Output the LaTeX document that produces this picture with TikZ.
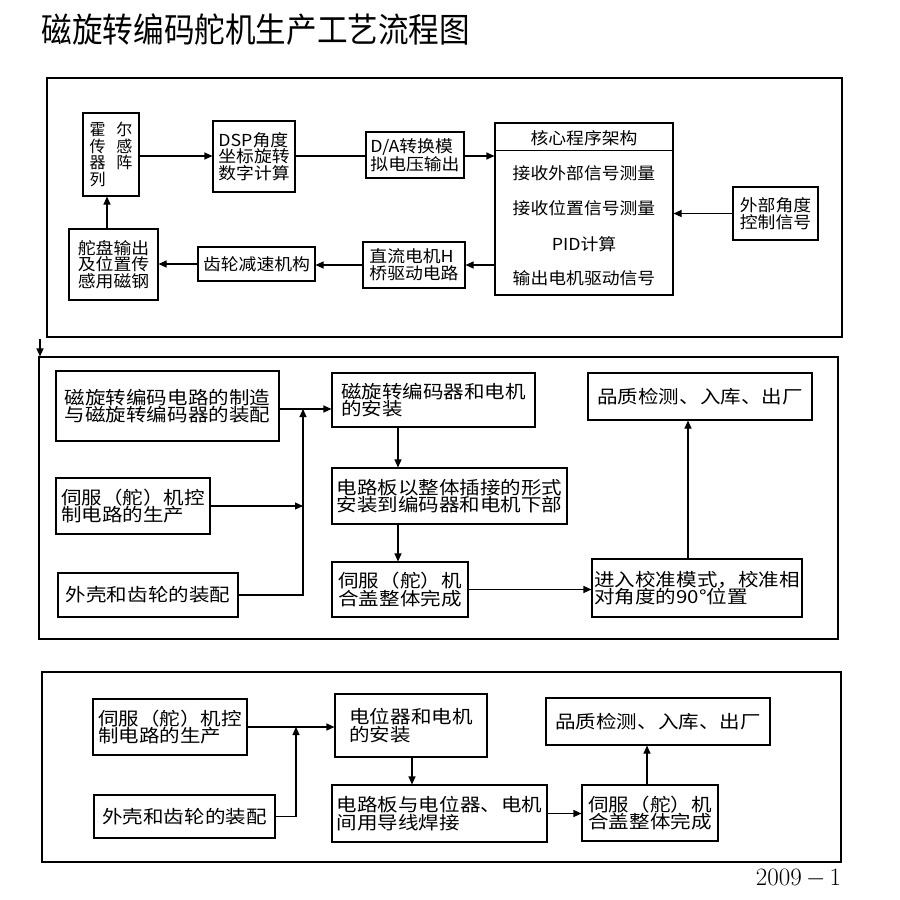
\documentclass[tikz,border=0pt]{standalone}
\usepackage{fontspec}
\usepackage{graphicx}
\usetikzlibrary{arrows.meta}
\newfontfamily\cjkt[FakeStretch=0.9]{Noto Sans CJK SC}
\newfontfamily\cjka[FakeStretch=1.08]{Noto Sans CJK SC}
\newfontfamily\cjkh{Noto Sans CJK SC}
\newfontfamily\cjkb[FakeStretch=1.14]{Noto Sans CJK SC}
\tikzset{
  frame/.style={draw=black, line width=1.1pt, inner sep=0pt},
  bxa/.style={draw=black, line width=1.1pt, inner sep=0pt, align=left, font=\cjka\fontsize{16.5}{16.5}\selectfont},
  bxb/.style={draw=black, line width=1.1pt, inner sep=0pt, align=left, font=\cjkb\fontsize{18}{17.5}\selectfont},
  txa/.style={inner sep=0pt, font=\cjka\fontsize{16.5}{16.5}\selectfont},
  arr/.style={line width=1.1pt, -{Triangle[length=8pt,width=7pt]}},
  ln/.style={line width=1.1pt},
}
\begin{document}
\begin{tikzpicture}[x=1pt,y=-1pt]
\useasboundingbox (0,0) rectangle (900,900);
% title
\node[inner sep=0pt, font=\cjkt\fontsize{34}{34}\selectfont] (title) at (256,30) {磁旋转编码舵机生产工艺流程图};
% outer frames
\node[frame, minimum width=795pt, minimum height=259pt] (o1) at (444.5,207.5) {};
\node[frame, minimum width=799pt, minimum height=282pt] (o2) at (438.5,498) {};
\node[frame, minimum width=799pt, minimum height=190pt] (o3) at (441.5,767) {};
% ---------- part 1
\node[bxa, minimum width=56pt, minimum height=83pt, font=\cjkh\fontsize{16}{16.5}\selectfont] (hall) at (111,154.5) {霍\hspace{11pt}尔\\传\hspace{11pt}感\\器\hspace{11pt}阵\\列};
\node[bxa, minimum width=82pt, minimum height=71pt] (dsp) at (254,156.5) {DSP角度\\坐标旋转\\数字计算};
\node[bxa, minimum width=98pt, minimum height=46pt] (da) at (415,155) {D/A转换模\\拟电压输出};
\node[frame, minimum width=178pt, minimum height=172pt] (core) at (584,209) {};
\draw[ln] ([yshift=-28pt]core.north west) -- ([yshift=-28pt]core.north east);
\node[txa] (coreh) at (584,138) {核心程序架构};
\node[txa] (core1) at (584,173.5) {接收外部信号测量};
\node[txa] (core2) at (584,208.5) {接收位置信号测量};
\node[txa] (core3) at (584,244) {PID计算};
\node[txa] (core4) at (584,278.5) {输出电机驱动信号};
\node[bxa, minimum width=85pt, minimum height=53pt] (ext) at (775.5,213.5) {外部角度\\控制信号};
\node[bxa, minimum width=89pt, minimum height=71pt] (wheel) at (113.5,264.5) {舵盘输出\\及位置传\\感用磁钢};
\node[bxa, minimum width=117pt, minimum height=34pt] (gear) at (256.5,264) {齿轮减速机构};
\node[bxa, minimum width=102pt, minimum height=46pt] (dc) at (414,265) {直流电机H\\桥驱动电路};
\coordinate (r1) at (0,156);
\coordinate (c107) at (107,0);
\draw[arr] (hall.east |- r1) -- (dsp.west |- r1);
\draw[ln] (dsp.east |- r1) -- (da.west |- r1);
\draw[arr] (da.east |- r1) -- (core.west |- r1);
\draw[arr] (ext.west) -- (ext.west -| core.east);
\draw[arr] (core.west |- dc.east) -- (dc.east);
\draw[arr] (dc.west) -- (dc.west -| gear.east);
\draw[arr] (gear.west) -- (gear.west -| wheel.east);
\draw[arr] (wheel.north -| c107) -- (hall.south -| c107);
% link between parts
\coordinate (a0) at (40,339);
\draw[arr] (a0) -- (a0 |- o2.north);
% ---------- part 2
\node[bxb, minimum width=223pt, minimum height=70pt] (A) at (167.5,406) {磁旋转编码电路的制造\\与磁旋转编码器的装配};
\node[bxb, minimum width=154pt, minimum height=56pt] (B) at (133,506) {伺服（舵）机控\\制电路的生产};
\node[bxb, minimum width=180pt, minimum height=44pt] (C) at (148,595) {外壳和齿轮的装配};
\node[bxb, minimum width=203pt, minimum height=54pt] (D) at (433.5,400) {磁旋转编码器和电机\\的安装};
\node[bxb, minimum width=235pt, minimum height=56pt] (E) at (449.5,496) {电路板以整体插接的形式\\安装到编码器和电机下部};
\node[bxb, minimum width=136pt, minimum height=55pt] (F) at (400,589.5) {伺服（舵）机\\合盖整体完成};
\node[bxb, minimum width=210pt, minimum height=58pt] (G) at (697,588) {进入校准模式，校准相\\对角度的90°位置};
\node[bxb, minimum width=224pt, minimum height=47pt] (H) at (700,396.5) {品质检测、入库、出厂};
\coordinate (r2) at (0,409);
\coordinate (j2) at (303,409);
\coordinate (c398) at (398,0);
\coordinate (c688) at (688,0);
\draw[arr] (A.east |- r2) -- (D.west |- r2);
\draw[arr] (C.east) -| (j2);
\draw[arr] (B.east) -- (B.east -| j2);
\draw[arr] (D.south -| c398) -- (E.north -| c398);
\draw[arr] (E.south -| c398) -- (F.north -| c398);
\draw[arr] (F.east) -- (F.east -| G.west);
\draw[arr] (G.north -| c688) -- (H.south -| c688);
% ---------- part 3
\node[bxb, minimum width=154pt, minimum height=56pt] (P) at (170,727) {伺服（舵）机控\\制电路的生产};
\node[bxb, minimum width=181pt, minimum height=43pt] (Q) at (184.5,816.5) {外壳和齿轮的装配};
\node[bxb, minimum width=152pt, minimum height=63pt] (R) at (411,725.5) {电位器和电机\\的安装};
\node[bxb, minimum width=215pt, minimum height=57pt] (S) at (439.5,813.5) {电路板与电位器、电机\\间用导线焊接};
\node[bxb, minimum width=136pt, minimum height=56pt] (T) at (650,813) {伺服（舵）机\\合盖整体完成};
\node[bxb, minimum width=224pt, minimum height=47pt] (U) at (658,721.5) {品质检测、入库、出厂};
\coordinate (j3) at (296,727);
\coordinate (c412) at (412,0);
\coordinate (c647) at (647,0);
\draw[arr] (P.east) -- (P.east -| R.west);
\draw[arr] (Q.east) -| (j3);
\draw[arr] (R.south -| c412) -- (S.north -| c412);
\draw[arr] (S.east) -- (S.east -| T.west);
\draw[arr] (T.north -| c647) -- (U.south -| c647);
% date
\node[inner sep=0pt, font=\fontsize{25}{25}\selectfont] (yr) at (798.5,878) {2009$\,-\,$1};
\end{tikzpicture}
\end{document}
